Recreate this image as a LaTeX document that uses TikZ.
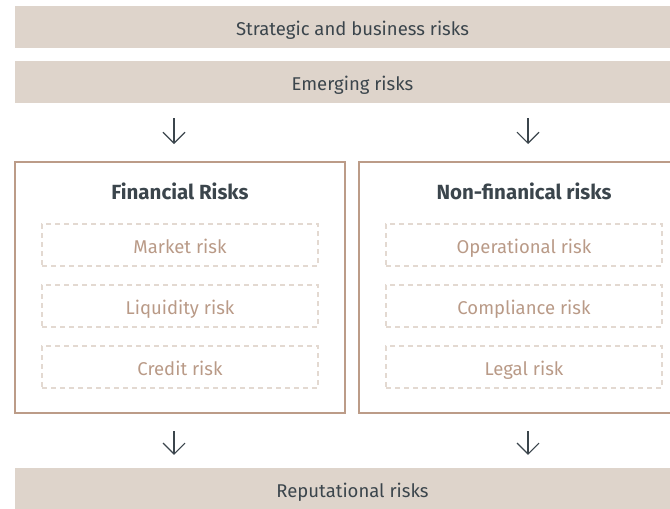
\documentclass[tikz,border=0pt]{standalone}
\usepackage{fontspec}
\setmainfont{Fira Sans}
\usetikzlibrary{arrows.meta, positioning}

\definecolor{barfill}{HTML}{DED4CB}
\definecolor{inktext}{HTML}{3B454C}
\definecolor{frame}{HTML}{BC9C88}
\definecolor{dashline}{HTML}{E3D9D1}
\definecolor{subtext}{HTML}{B99A87}

\tikzset{
  band/.style={fill=barfill, minimum width=675pt, minimum height=42pt,
    text height=16pt, text depth=0pt, inner sep=0pt,
    text=inktext, font=\fontsize{18.5}{22}\selectfont},
  group/.style={draw=frame, line width=2pt, minimum width=330pt, minimum height=251pt},
  grouptitle/.style={text=inktext, font=\fontsize{20.5}{24}\selectfont\bfseries},
  item/.style={draw=dashline, line width=1.5pt, dash pattern=on 5pt off 4pt,
    minimum width=276pt, minimum height=42pt, inner sep=0pt,
    text height=16pt, text depth=0pt, text=subtext,
    font=\fontsize{18.5}{22}\selectfont},
  flow/.style={draw=inktext, line width=1.1pt, -{Straight Barb[length=11pt, width=22pt]}}
}

\begin{document}
\begin{tikzpicture}[x=1pt, y=-1pt, node distance=17.5pt]
  \clip (0,0) rectangle (670,509);

  % outer bands
  \node[band] (strategic) at (352.5,27)  {Strategic and business risks};
  \node[band] (emerging)  at (352.5,82)  {Emerging risks};
  \node[band] (reput)     at (352.5,489) {Reputational risks};

  % the two groups
  \node[group] (fin)    at (180,287.5) {};
  \node[group] (nonfin) at (524,287.5) {};
  \node[grouptitle] (fintitle)    at (180,191) {Financial Risks};
  \node[grouptitle] (nonfintitle) at (524,191) {Non-finanical risks};

  \node[item] (market)                        at (180,245) {Market risk};
  \node[item] (liquidity) [below=of market]                {Liquidity risk};
  \node[item] (credit)    [below=of liquidity]             {Credit risk};

  \node[item] (operational)                   at (524,245) {Operational risk};
  \node[item] (compliance) [below=of operational]          {Compliance risk};
  \node[item] (legal)      [below=of compliance]           {Legal risk};

  % arrows in and out of the groups
  \draw[flow, shorten <=15pt, shorten >=17pt]
    ([xshift=-6pt]fin.north |- emerging.south) -- ([xshift=-6pt]fin.north);
  \draw[flow, shorten <=15pt, shorten >=17pt]
    ([xshift=4pt]nonfin.north |- emerging.south) -- ([xshift=4pt]nonfin.north);
  \draw[flow, shorten <=17pt, shorten >=13pt]
    ([xshift=-6pt]fin.south) -- ([xshift=-6pt]fin.south |- reput.north);
  \draw[flow, shorten <=17pt, shorten >=13pt]
    ([xshift=4pt]nonfin.south) -- ([xshift=4pt]nonfin.south |- reput.north);
\end{tikzpicture}
\end{document}
